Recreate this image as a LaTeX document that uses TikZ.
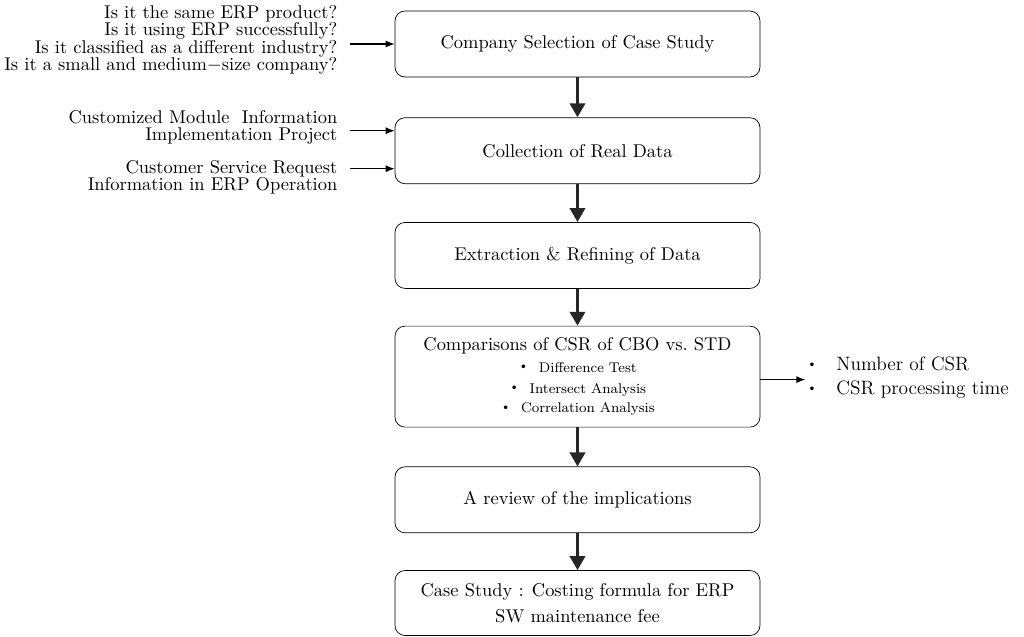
\documentclass[tikz,border=0pt]{standalone}
\usepackage{tikz}
\usetikzlibrary{arrows.meta,positioning}
\tikzset{
  block/.style={rectangle, draw, rounded corners=0.2cm, align=center, minimum width=7.3cm, minimum height=1.32cm, font=\fontsize{10.5}{13}\selectfont},
  bigblock/.style={block, minimum height=2.02cm},
  note/.style={align=right, font=\fontsize{10.5}{9.9}\selectfont, inner sep=0pt},
  line/.style={-{Triangle[width=0.3cm,length=0.28cm]}, line width=2.2pt, draw=black!85},
  thinline/.style={-{Latex[width=0.14cm,length=0.18cm]}, semithick}
}
\newcommand{\dotitem}{\raisebox{0.35ex}{\scriptsize\textbullet}}

\begin{document}
\begin{tikzpicture}[node distance=0.76cm]
  \useasboundingbox (0,0) rectangle (20.48,-12.72);
  % main flow
  \node[block] (select) at (11.55,-0.88) {Company Selection of Case Study};
  \node[block, below=0.8cm of select] (collect) {Collection of Real Data};
  \node[block, below=of collect] (refine) {Extraction \& Refining of Data};
  \node[bigblock, below=0.74cm of refine] (compare) {Comparisons of CSR of CBO vs.\ STD\\[-1pt]
    {\fontsize{8}{9.2}\selectfont \dotitem\ \ Difference Test}\\[-1pt]
    {\fontsize{8}{9.2}\selectfont \dotitem\ \ Intersect Analysis}\\[-2pt]
    {\fontsize{8}{9.2}\selectfont \dotitem\ \ Correlation Analysis}};
  \node[block, below=0.78cm of compare] (review) {A review of the implications};
  \node[block, below=0.74cm of review, minimum height=1.3cm] (cost) {Case Study : Costing formula for ERP\\[1.5pt]SW maintenance fee};
  \draw[line] (select) -- (collect);
  \draw[line] (collect) -- (refine);
  \draw[line] (refine) -- (compare);
  \draw[line] (compare) -- (review);
  \draw[line] (review) -- (cost);

  % inputs on the left
  \node[note, anchor=east] (crit) at ([xshift=-1.14cm, yshift=0.08cm]select.west) {Is it the same ERP product?\\Is it using ERP successfully?\\Is it classified as a different industry?\\Is it a small and medium$-$size company?};
  \coordinate (critin) at ([xshift=-0.9cm]select.west);
  \draw[thinline] (critin) -- (select.west);

  \node[note, anchor=east] (cbo) at ([xshift=-1.14cm, yshift=0.47cm]collect.west) {Customized Module\ \ Information\\Implementation Project};
  \coordinate (cboin) at ([xshift=-0.9cm, yshift=0.4cm]collect.west);
  \draw[thinline] (cboin) -- (cboin -| collect.west);

  \node[note, anchor=east] (csr) at ([xshift=-1.14cm, yshift=-0.53cm]collect.west) {Customer Service Request\\Information in ERP Operation};
  \coordinate (csrin) at ([xshift=-0.9cm, yshift=-0.36cm]collect.west);
  \draw[thinline] (csrin) -- (csrin -| collect.west);

  % output on the right
  \coordinate (measure) at ([xshift=0.9cm, yshift=-0.06cm]compare.east);
  \draw[thinline] (measure -| compare.east) -- (measure);
  \node[note, align=left, anchor=west, font=\fontsize{11}{13.8}\selectfont] (count) at ([xshift=0.02cm, yshift=0.04cm]measure) {\dotitem\ \ \ Number of CSR\\\dotitem\ \ \ CSR processing time};
\end{tikzpicture}
\end{document}
